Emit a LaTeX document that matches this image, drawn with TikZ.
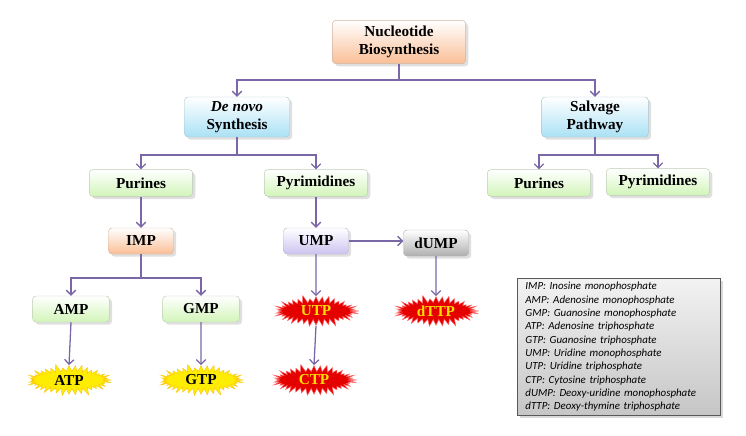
\documentclass[tikz,border=0pt]{standalone}
\usepackage{fontspec}
\setmainfont{Liberation Serif}
\newfontfamily\legendfont{Carlito}
\usetikzlibrary{shapes.symbols,shadows,arrows.meta}

\definecolor{linkcol}{RGB}{122,104,166}
\definecolor{peach}{RGB}{250,190,150}
\definecolor{skyb}{RGB}{170,225,245}
\definecolor{leaf}{RGB}{210,245,185}
\definecolor{lilac}{RGB}{205,195,240}
\definecolor{ash}{RGB}{175,175,175}

\tikzset{
  box/.style={draw=#1!70!black!60, rounded corners=3pt, top color=white, bottom color=#1,
    font=\bfseries\fontsize{13}{15}\selectfont, align=center, drop shadow={opacity=0.25}},
  redstar/.style={starburst, starburst points=40, starburst point height=7pt, fill=red!90!black,
    draw=red!60, text=yellow!80!orange, font=\bfseries\fontsize{13}{15}\selectfont,
    minimum width=2.6cm, minimum height=1.0cm, inner sep=0pt},
  yellowstar/.style={redstar, fill=yellow!95!orange, draw=yellow!60!orange, text=black},
  link/.style={draw=linkcol, line width=1.1pt, -{Straight Barb[length=4pt,width=8pt]}},
  stem/.style={draw=linkcol, line width=1.1pt}
}

\begin{document}
\begin{tikzpicture}[x=0.03cm,y=-0.03cm]
\useasboundingbox (0,0) rectangle (746,435);

% top levels
\node[box=peach, minimum width=4.0cm, minimum height=1.3cm] (nb) at (399,42) {Nucleotide\\Biosynthesis};
\node[box=skyb, minimum width=3.15cm, minimum height=1.2cm] (dn) at (237,117) {\textit{De novo}\\Synthesis};
\node[box=skyb, minimum width=3.2cm, minimum height=1.2cm] (sp) at (595,117) {Salvage\\Pathway};

\node[box=leaf, minimum width=3.1cm, minimum height=0.8cm] (pu) at (141,183) {Purines};
\node[box=leaf, minimum width=3.1cm, minimum height=0.8cm] (py) at (316,183) {Pyrimidines};
\node[box=leaf, minimum width=3.1cm, minimum height=0.8cm] (spu) at (539,183) {Purines};
\node[box=leaf, minimum width=3.1cm, minimum height=0.8cm] (spy) at (658,182) {Pyrimidines};

% monophosphates
\node[box=peach, minimum width=1.95cm, minimum height=0.78cm] (imp) at (141,241) {IMP};
\node[box=lilac, minimum width=1.95cm, minimum height=0.78cm] (ump) at (316,241) {UMP};
\node[box=ash, minimum width=1.95cm, minimum height=0.78cm] (dump) at (436,243) {dUMP};
\node[box=leaf, minimum width=2.3cm, minimum height=0.78cm] (amp) at (71,309) {AMP};
\node[box=leaf, minimum width=2.3cm, minimum height=0.78cm] (gmp) at (201,309) {GMP};

% triphosphates
\node[redstar] (utp) at (316,311) {UTP};
\node[redstar] (dttp) at (436,311) {dTTP};
\node[redstar] (ctp) at (314,380) {CTP};
\node[yellowstar] (atp) at (69,380) {ATP};
\node[yellowstar] (gtp) at (201,380) {GTP};

% connectors
\coordinate (j1) at (399,80);
\draw[stem] (nb.south) -- (j1);
\draw[link] (j1) -| (dn.north);
\draw[link] (j1) -| (sp.north);
\coordinate (j2) at (237,155);
\draw[stem] (dn.south) -- (j2);
\draw[link] (j2) -| (pu.north);
\draw[link] (j2) -| (py.north);
\coordinate (j3) at (595,155);
\draw[stem] (sp.south) -- (j3);
\draw[link] (j3) -| (spu.north);
\draw[link] (j3) -| (spy.north);
\draw[link] (pu.south) -- (imp.north);
\draw[link] (py.south) -- (ump.north);
\coordinate (j4) at (141,278);
\draw[stem] (imp.south) -- (j4);
\draw[link] (j4) -| (amp.north);
\draw[link] (j4) -| (gmp.north);
\draw[link] (ump.east) -- (ump.east -| dump.west);
\draw[link] (ump.south) -- (utp.north);
\draw[link] (dump.south) -- (dttp.north);
\draw[link] (utp.south) -- (ctp.north);
\draw[link] (amp.south) -- (atp.north);
\draw[link] (gmp.south) -- (gtp.north);

% legend
\node[draw=gray!70!black, top color=gray!10, bottom color=gray!45, anchor=north west,
  text width=5.6cm, minimum height=3.95cm, align=left, inner xsep=7pt,
  font=\legendfont\itshape\fontsize{9.3}{11.4}\selectfont, drop shadow={opacity=0.3}] (key) at (517,278)
  {IMP: Inosine monophosphate\\
   AMP: Adenosine monophosphate\\
   GMP: Guanosine monophosphate\\
   ATP: Adenosine triphosphate\\
   GTP: Guanosine triphosphate\\
   UMP: Uridine monophosphate\\
   UTP: Uridine triphosphate\\
   CTP: Cytosine triphosphate\\
   dUMP: Deoxy-uridine monophosphate\\
   dTTP: Deoxy-thymine triphosphate};
\end{tikzpicture}
\end{document}
